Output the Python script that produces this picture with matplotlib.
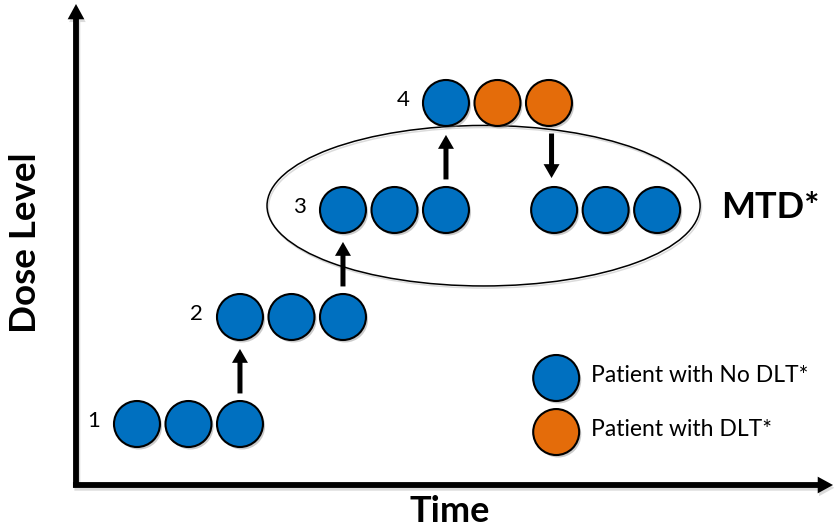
import matplotlib
matplotlib.use("Agg")
import matplotlib.pyplot as plt
import matplotlib.patheffects as pe
from matplotlib.patches import Ellipse

plt.rcParams["font.family"] = ["Lato", "DejaVu Sans"]

# cohorts of three patients: time slots, dose level, DLT flags
cohort_times = [[0, 1, 2], [2, 3, 4], [4, 5, 6], [6, 7, 8], [8.1, 9.1, 10.1]]
cohort_levels = [1, 2, 3, 4, 3]
cohort_dlt = [[0, 0, 0], [0, 0, 0], [0, 0, 0], [0, 1, 1], [0, 0, 0]]
level_labels = ["1", "2", "3", "4", None]

# dose moves between cohorts: (time slot, from level, to level)
moves = [(2, 1, 2), (4, 2, 3), (6, 3, 4), (8.05, 4, 3)]

# MTD region (centre time, centre level, width, height)
mtd_box = (6.73, 3.04, 8.41, 1.5)

legend_labels = ["Patient with No DLT*", "Patient with DLT*"]
legend_levels = [1.43, 0.925]
legend_time = 8.14

BLUE = "#0070C0"
ORANGE = "#E46C0A"
colors = [BLUE, ORANGE]

fig = plt.figure(figsize=(8.34, 5.30), dpi=100)
ax = fig.add_axes([76 / 834, 45 / 530, 757 / 834, 481 / 530])
ax.set_xlim(-1.184, 13.515)
ax.set_ylim(0.43, 4.925)
ax.axis("off")

shadow = [pe.SimplePatchShadow(offset=(1.5, -1.8), shadow_rgbFace="0.55", alpha=0.45), pe.Normal()]
circle_kw = dict(s=1096, edgecolors="black", linewidths=1.5, zorder=4, path_effects=shadow, clip_on=False)

# axes with arrowheads
axis_arrow = dict(arrowstyle="simple,head_length=1.1,head_width=1.2,tail_width=0.42",
                  mutation_scale=10, fc="black", ec="none", shrinkA=0, shrinkB=0,
                  path_effects=[pe.SimplePatchShadow(offset=(1, -2), shadow_rgbFace="0.6", alpha=0.35), pe.Normal()])
ax.annotate("", xy=(0, 1), xytext=(0, 0), xycoords="axes fraction", arrowprops=axis_arrow)
ax.annotate("", xy=(1, 0), xytext=(-0.004, 0), xycoords="axes fraction", arrowprops=axis_arrow)

# MTD ellipse
cx, cy, w, h = mtd_box
ax.add_patch(Ellipse((cx, cy), w, h, fill=False, ec="black", lw=1.1, zorder=2,
                     path_effects=[pe.SimpleLineShadow(offset=(1, -1.5), shadow_color="0.6", alpha=0.35),
                                   pe.Normal()]))
ax.annotate("MTD*", xy=(cx + w / 2, cy), xytext=(15, -1), textcoords="offset points",
            ha="left", va="center", fontsize=26, fontweight="bold")

# cohorts
for times, level, dlt, label in zip(cohort_times, cohort_levels, cohort_dlt, level_labels):
    ax.scatter(times, [level] * len(times), c=[colors[d] for d in dlt], **circle_kw)
    if label:
        ax.annotate(label, xy=(times[0], level), xytext=(-31, 2), textcoords="offset points",
                    ha="center", va="center", fontsize=16)

# escalation / de-escalation arrows
move_arrow = dict(arrowstyle="simple,head_length=1.0,head_width=1.15,tail_width=0.36",
                  mutation_scale=10, fc="black", ec="none", shrinkA=22, shrinkB=23)
for t, lv_from, lv_to in moves:
    ax.annotate("", xy=(t, lv_to), xytext=(t, lv_from), arrowprops=move_arrow, zorder=3)

# legend
for lv, col, lab in zip(legend_levels, colors, legend_labels):
    ax.scatter([legend_time], [lv], c=[col], **circle_kw)
    ax.annotate(lab, xy=(legend_time, lv), xytext=(25, 2), textcoords="offset points",
                ha="left", va="center", fontsize=16.5)

fig.text(450 / 834, 1 - 512 / 530, "Time", ha="center", va="center", fontsize=26, fontweight="bold")
fig.text(26 / 834, 1 - 243 / 530, "Dose Level", ha="center", va="center", rotation=90,
         fontsize=26.5, fontweight="bold")

fig.savefig("out.png", dpi=100)
